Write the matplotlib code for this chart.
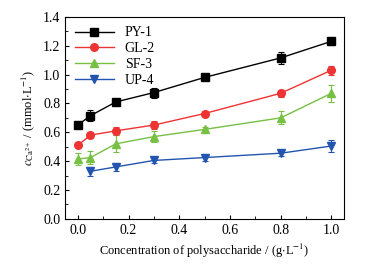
import matplotlib
matplotlib.use("Agg")
from matplotlib import pyplot as plt
from matplotlib.ticker import MultipleLocator

plt.rcParams['font.family'] = ['Liberation Serif', 'DejaVu Serif']
plt.rcParams['mathtext.fontset'] = 'stix'

conc = [0.0, 0.05, 0.15, 0.3, 0.5, 0.8, 1.0]
py1 = [0.65, 0.715, 0.81, 0.875, 0.98, 1.115, 1.23]
py1_err = [0.015, 0.04, 0.02, 0.035, 0.015, 0.04, 0.025]
gl2 = [0.51, 0.58, 0.61, 0.65, 0.73, 0.87, 1.03]
gl2_err = [0.01, 0.02, 0.03, 0.025, 0.015, 0.025, 0.03]
sf3 = [0.415, 0.425, 0.52, 0.57, 0.62, 0.70, 0.87]
sf3_err = [0.04, 0.045, 0.06, 0.04, 0.02, 0.045, 0.06]
conc4 = [0.05, 0.15, 0.3, 0.5, 0.8, 1.0]
up4 = [0.33, 0.36, 0.405, 0.425, 0.455, 0.505]
up4_err = [0.03, 0.025, 0.02, 0.025, 0.02, 0.04]

fig = plt.figure(figsize=(3.7, 2.66), dpi=100)
ax = fig.add_axes([0.176, 0.177, 0.754, 0.76])

series = [
    (conc, py1, py1_err, 'black', 's', 'PY-1'),
    (conc, gl2, gl2_err, '#ee3333', 'o', 'GL-2'),
    (conc, sf3, sf3_err, '#77c043', '^', 'SF-3'),
    (conc4, up4, up4_err, '#2255b0', 'v', 'UP-4'),
]
handles = []
for x, y, e, c, m, lab in series:
    cont = ax.errorbar(x, y, yerr=e, color=c, marker=m, markersize=5.5, lw=1,
                       elinewidth=0.8, capsize=2.5, capthick=0.8, label=lab)
    handles.append(cont[0])

ax.set_xlim(-0.05, 1.05)
ax.set_ylim(0, 1.4)
ax.xaxis.set_major_locator(MultipleLocator(0.2))
ax.xaxis.set_minor_locator(MultipleLocator(0.1))
ax.yaxis.set_major_locator(MultipleLocator(0.2))
ax.yaxis.set_minor_locator(MultipleLocator(0.1))
ax.tick_params(which='both', direction='in', labelsize=10)
ax.tick_params(which='major', length=3)
ax.tick_params(which='minor', length=2)
ax.set_xticklabels([f'{v:.1f}' for v in ax.get_xticks()])
ax.set_yticklabels([f'{v:.1f}' for v in ax.get_yticks()])

ax.set_xlabel('Concentration of polysaccharide / (g$\\cdot$L$^{-1}$)', fontsize=9)
ax.set_ylabel('$c_{\\mathrm{Ca^{2+}}}$ / (mmol$\\cdot$L$^{-1}$)', fontsize=9)

ax.legend(handles, [s[5] for s in series], loc='upper left', frameon=False,
          fontsize=10, handlelength=2.8, labelspacing=0.2, borderaxespad=0.3)

plt.savefig('out.png', dpi=100)
